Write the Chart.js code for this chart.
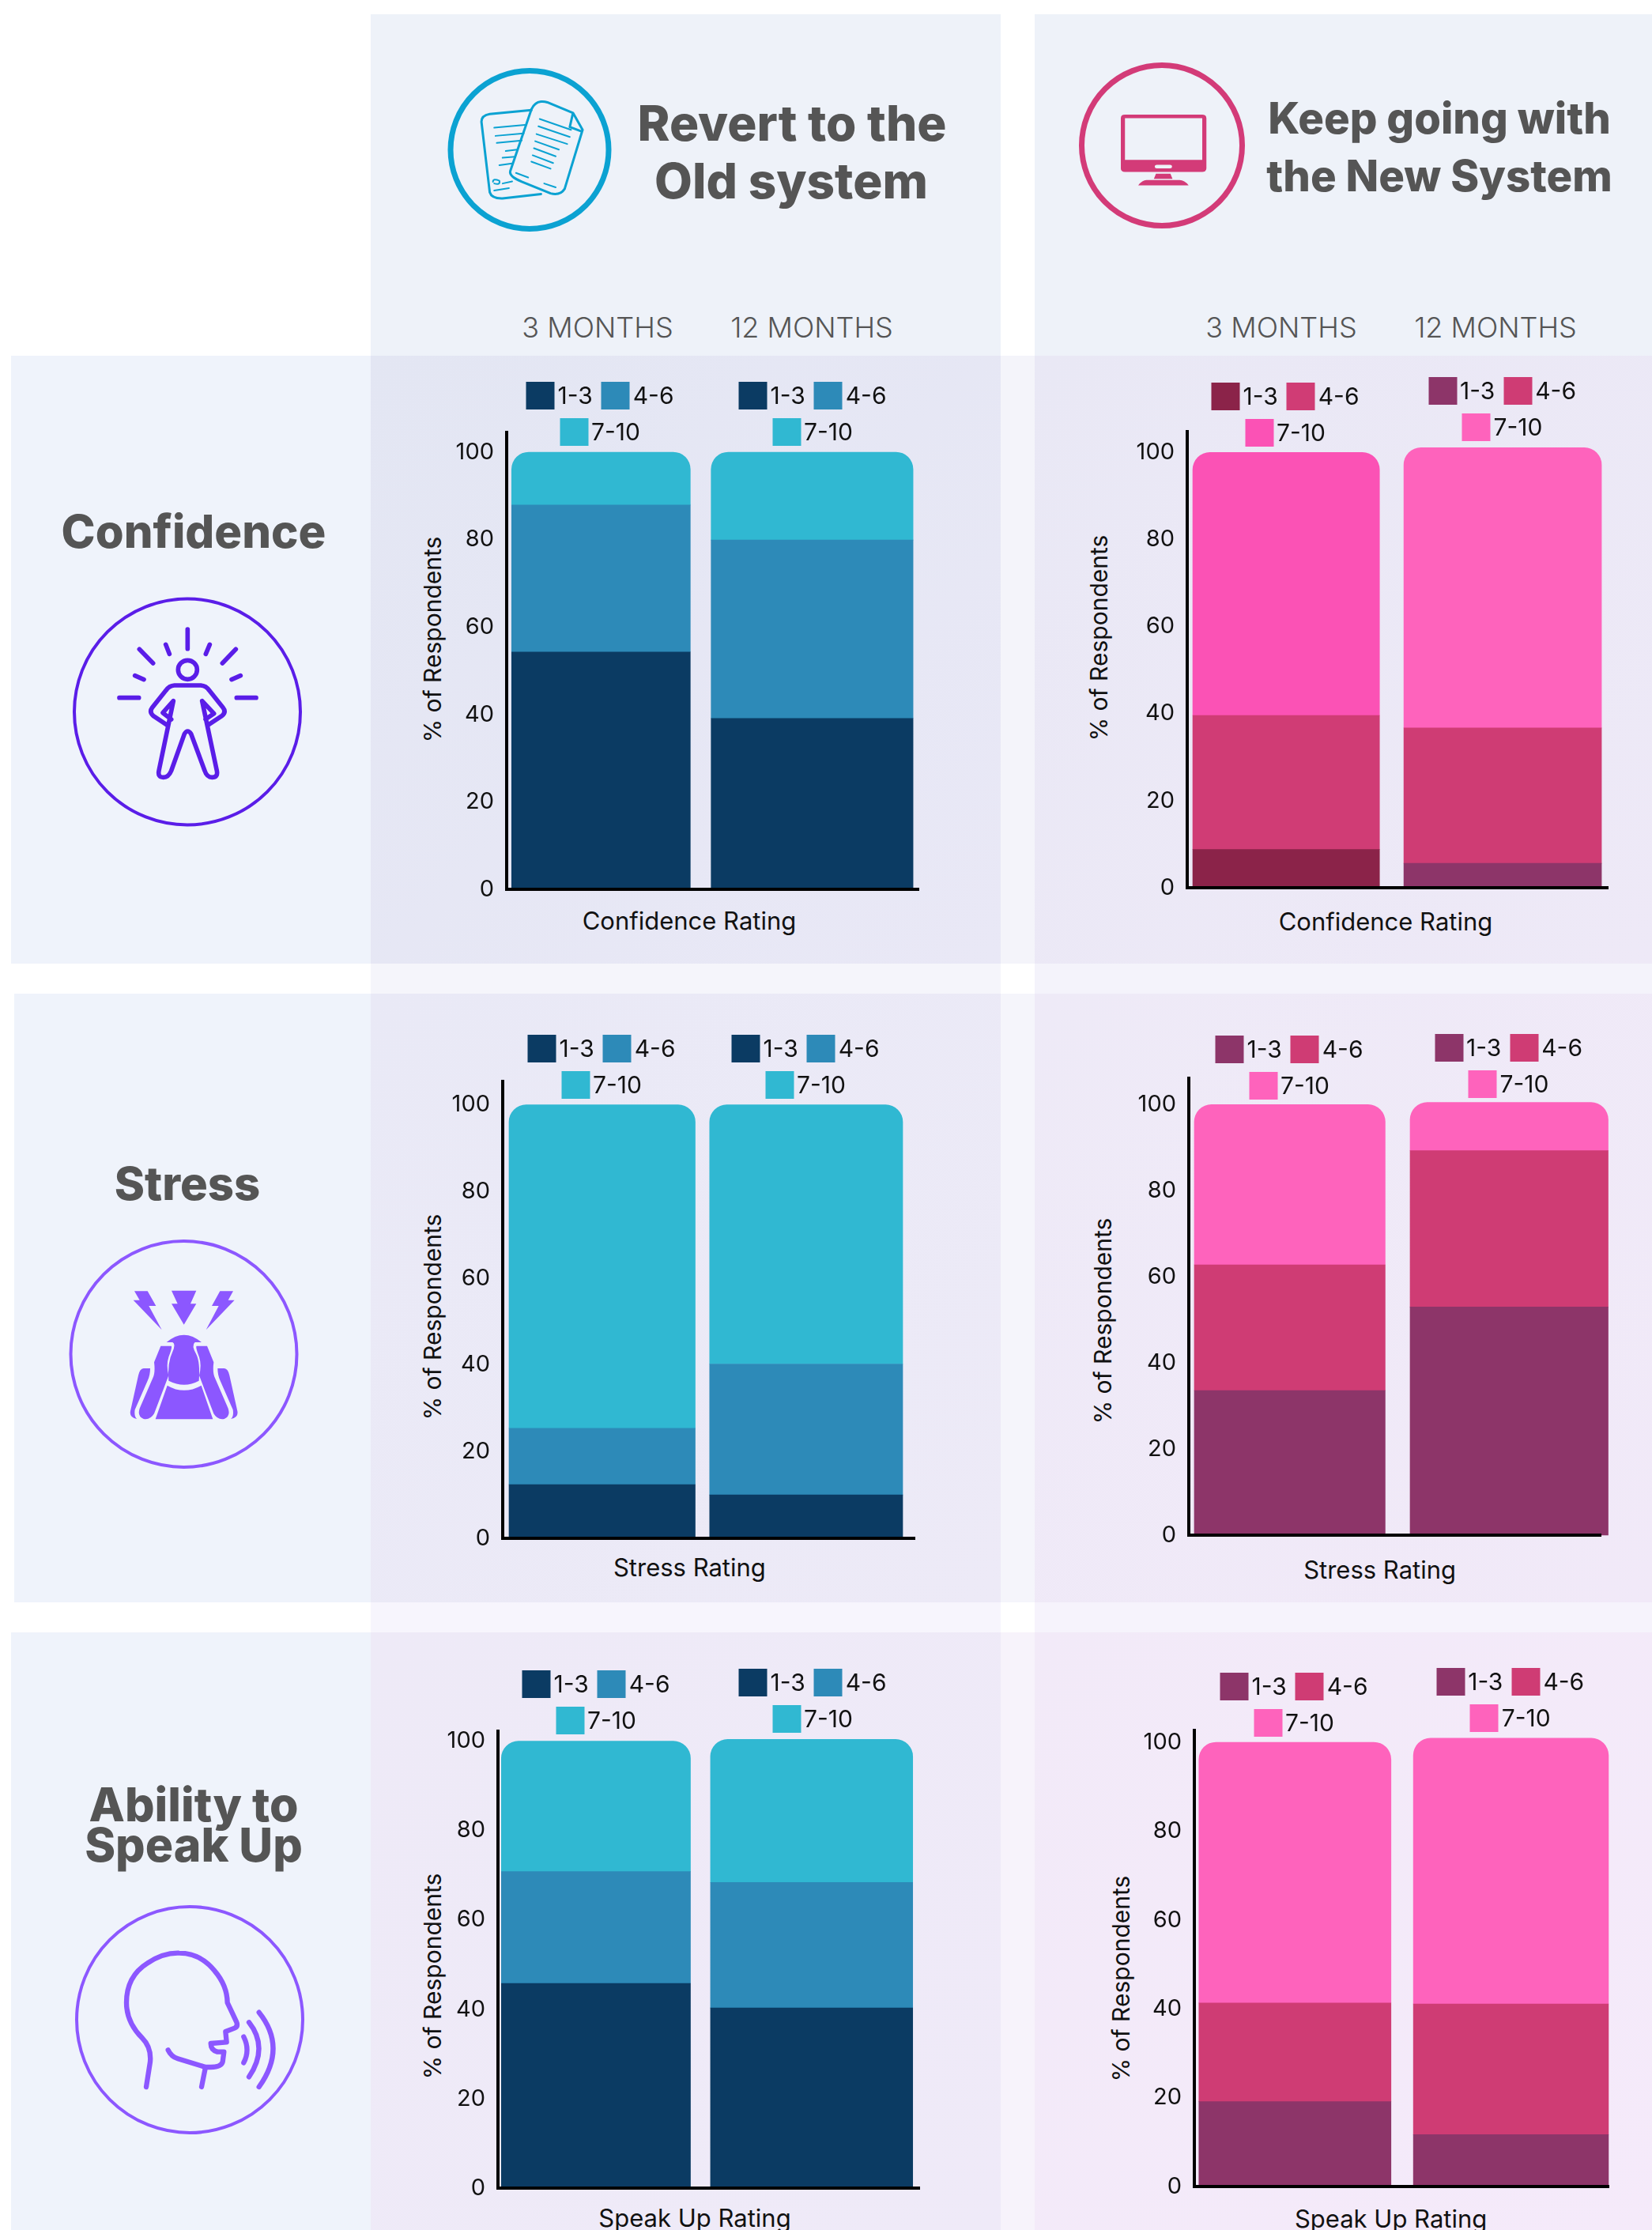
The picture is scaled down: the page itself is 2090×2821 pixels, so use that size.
<!DOCTYPE html>
<html>
<head>
  <title>Revert or Keep Going: Survey Ratings</title>
  <script src="https://cdn.jsdelivr.net/npm/chart.js"></script>
  <style>
    html, body { margin: 0; padding: 0; }
    html { background: #fff; }
    body { position: relative; width: 2090px; height: 2821px; overflow: hidden; font-family: Inter, "Noto Sans", sans-serif; }
    .cell { position: absolute; }
    .label { position: absolute; white-space: nowrap; line-height: 1; transform: translate(-50%, -50%); color: #111; }
    .heading { font-weight: 800; color: #555; }
    .months { font-weight: 300; font-size: 36px; color: #555; }
    canvas { position: absolute; }
    svg { position: absolute; overflow: visible; }
    .legend { position: absolute; width: 205px; display: flex; flex-wrap: wrap; justify-content: center; column-gap: 11px; row-gap: 10px; transform: translateX(-50%); font-size: 30px; color: #111; }
    .legend-item { display: flex; align-items: center; gap: 4px; }
    .legend-box { width: 36px; height: 35px; display: block; }
  </style>
</head>
<body>
  <svg style="left:0;top:0" width="1270" height="700" viewBox="0 0 1568 1568" preserveAspectRatio="none" fill="none" stroke="#0ba2d2" stroke-width="3" stroke-linecap="round" stroke-linejoin="round">
    <path vector-effect="non-scaling-stroke" d="M830 312 L765 323 Q752 327 752 345 L765 545 Q768 563 785 562 L845 550"/>
    <path vector-effect="non-scaling-stroke" d="M845 288 Q835 290 830 310 L797 485 Q795 500 815 515 L860 548 Q875 555 882 535 L910 368 L895 320 L855 290 Q850 287 845 288 Z M895 320 L890 360 L908 372"/>
    <path vector-effect="non-scaling-stroke" stroke-width="2" d="M843 337 L892 368 M841 358 L890 388 M838 380 L886 408 M836 400 L873 424 M834 420 L868 443 M832 440 L864 462 M830 458 L860 478 M806 490 L825 503 M850 520 L868 531 M772 362 L820 354 M774 385 L818 378 M776 405 L815 398 M790 428 L808 424 M785 447 L805 444 M780 468 L800 463 M770 515 Q770 505 780 512 Q782 525 772 520 M785 520 L800 514 M772 540 L795 533"/>
  </svg>
  <svg style="left:1270px;top:0" width="820" height="700" viewBox="0 0 1568 1568" preserveAspectRatio="none">
    <path fill="#d33b78" fill-rule="evenodd" d="M293 325 H480 Q490 325 490 335 V477 Q490 487 480 487 H293 Q283 487 283 477 V335 Q283 325 293 325 Z M293 335 V453 H480 V335 Z M370 467 Q365 467 365 472 Q365 477 370 477 H402 Q407 477 407 472 Q407 467 402 467 Z"/>
    <path fill="#d33b78" d="M368 492 H403 L408 507 H363 Z M325 525 Q335 510 345 510 H425 Q437 510 447 525 Z"/>
  </svg>
  <svg style="left:0;top:0" width="2090" height="2821" viewBox="0 0 2090 2821" fill="none">
    <circle cx="670" cy="189.5" r="100" stroke="#0ba2d2" stroke-width="7"/>
    <circle cx="1470" cy="184" r="101.5" stroke="#d33b78" stroke-width="7"/>
    <circle cx="237" cy="900.5" r="143" stroke="#5a1de8" stroke-width="4"/>
    <circle cx="232.5" cy="1713" r="143" stroke="#8c57ff" stroke-width="4"/>
    <circle cx="240" cy="2555" r="143" stroke="#8c57ff" stroke-width="4"/>
  </svg>
  <svg style="left:60px;top:730px" width="340" height="340" viewBox="0 0 1020 1020" fill="none" stroke="#5a1de8" stroke-width="17" stroke-linecap="round" stroke-linejoin="round">
    <path d="M532 198 V272 M349 274 L401 327 M715 274 L664 327 M449 256 L463 292 M616 256 L601 292 M332 374 L366 389 M733 374 L699 389 M273 458 H347 M718 458 H792"/>
    <circle cx="532" cy="352" r="36"/>
    <path d="M455 562 L402 527 Q385 512 398 495 L450 430 Q462 412 482 411 H582 Q602 412 614 430 L666 495 Q680 512 662 527 L612 560"/>
    <path d="M470 540 L438 515 L478 470 L423 735 Q418 760 440 760 Q460 760 470 735 L520 595 Q532 575 545 595 L597 735 Q605 760 625 760 Q648 760 643 735 L587 470 L632 518 L600 540"/>
  </svg>
  <svg style="left:0;top:1480px" width="500" height="440" viewBox="0 0 1500 1320" fill="#8c57ff">
    <path d="M510 460 H560 L592 516 H565 L614 607 L506 494 H530 Z M651 458 H745 L723 508 H745 L698 587 L651 508 H674 Z M885 460 H835 L804 516 H830 L782 607 L890 494 H866 Z"/>
    <path d="M632 654 Q698 598 765 654 H740 Q725 665 745 700 Q760 730 755 800 Q700 830 640 800 Q635 730 655 690 Q668 660 655 654 Z"/>
    <path d="M635 818 Q698 855 764 818 L808 946 H590 Z"/>
    <g id="stress-arm">
      <path d="M610 668 H650 Q655 672 640 710 Q630 740 640 780 L585 925 Q570 950 545 945 Q520 935 530 905 L580 790 Q590 770 585 730 Z"/>
      <path d="M545 753 H570 Q570 780 560 800 L512 910 Q508 935 520 945 Q490 940 495 915 L525 780 Q530 755 545 753 Z"/>
    </g>
    <use href="#stress-arm" transform="translate(1396 0) scale(-1 1)"/>
  </svg>
  <svg style="left:0;top:2200px" width="500" height="520" viewBox="0 0 1500 1560" fill="none" stroke="#8c57ff" stroke-width="19" stroke-linecap="round" stroke-linejoin="round">
    <path d="M555 1320 L570 1225 Q575 1170 540 1135 Q480 1075 480 1000 Q480 900 560 850 Q620 810 680 812 Q760 812 815 880 Q862 935 863 1000 L897 1072 Q905 1090 890 1097 L856 1110 L860 1150 L800 1155 Q800 1180 825 1187 L850 1187 L845 1225 Q840 1245 800 1245 H780 L675 1213 Q650 1205 638 1180"/>
    <path d="M780 1245 L765 1320 M925 1130 Q950 1180 925 1228 M945 1075 Q1020 1170 945 1282 M983 1037 Q1090 1170 983 1320"/>
  </svg>

  <script>
    const ratingBands = ['1-3', '4-6', '7-10'];
    const months = [3, 12];
    const monthLabels = ['3 MONTHS', '12 MONTHS'];
    const yTickStep = 20;

    // percent of respondents per rating band, low band first
    const confidenceOld3 = [54.3, 33.6, 12.1];
    const confidenceOld12 = [39.1, 40.8, 20.1];
    const confidenceNew3 = [8.8, 30.8, 60.4];
    const confidenceNew12 = [5.6, 31.1, 64.4];
    const stressOld3 = [12.4, 13.0, 74.6];
    const stressOld12 = [10.0, 30.2, 59.8];
    const stressNew3 = [33.6, 29.2, 37.2];
    const stressNew12 = [53.0, 36.3, 11.2];
    const speakOld3 = [45.8, 25.0, 29.2];
    const speakOld12 = [40.3, 28.1, 32.0];
    const speakNew3 = [19.1, 22.2, 58.7];
    const speakNew12 = [11.7, 29.4, 59.8];

    const bluePalette = ['#0b3b63', '#2d8ab8', '#30b8d2'];
    const pinkPalette = ['#8d3569', '#cf3c74', '#fe63bc'];

    // pixel frame of each chart; bars give the left and right edge of each column
    const frames = [
      { name: 'Confidence Rating', series: [confidenceOld3, confidenceOld12], colors: [bluePalette, bluePalette],
        axisX: 640.6, axisTop: 547, y0: 1125, y100: 572, xEnd: 1162, bars: [[647, 873], [899.6, 1155]],
        legends: [[759, 482], [1028, 482]], xTitle: [872, 1164], yTitle: [547, 809] },
      { name: 'Confidence Rating', series: [confidenceNew3, confidenceNew12], colors: [['#8b2349', '#d03c75', '#fb52b5'], pinkPalette],
        axisX: 1501.7, axisTop: 546, y0: 1123, y100: 572.4, xEnd: 2034, bars: [[1508.8, 1745], [1776, 2026]],
        legends: [[1626, 483], [1900.5, 476]], xTitle: [1753, 1165], yTitle: [1390, 807] },
      { name: 'Stress Rating', series: [stressOld3, stressOld12], colors: [bluePalette, bluePalette],
        axisX: 636, axisTop: 1368, y0: 1946, y100: 1397.6, xEnd: 1157, bars: [[644, 879.5], [897.8, 1142]],
        legends: [[761, 1308], [1019, 1308]], xTitle: [872.4, 1982], yTitle: [547, 1666] },
      { name: 'Stress Rating', series: [stressNew3, stressNew12], colors: [pinkPalette, pinkPalette],
        axisX: 1504, axisTop: 1364.4, y0: 1942, y100: 1397.8, xEnd: 2025, bars: [[1511, 1752.4], [1784, 2034.5]],
        legends: [[1631, 1309], [1908.5, 1307]], xTitle: [1745.6, 1985], yTitle: [1395, 1671] },
      { name: 'Speak Up Rating', series: [speakOld3, speakOld12], colors: [bluePalette, bluePalette],
        axisX: 630.4, axisTop: 2189.6, y0: 2767.8, y100: 2202.2, xEnd: 1163.8, bars: [[634.8, 874], [899.6, 1155.4]],
        legends: [[754, 2112], [1028, 2110]], xTitle: [879, 2805], yTitle: [547, 2500] },
      { name: 'Speak Up Rating', series: [speakNew3, speakNew12], colors: [pinkPalette, pinkPalette],
        axisX: 1510.8, axisTop: 2189, y0: 2766, y100: 2204, xEnd: 2034.5, bars: [[1516.5, 1759.5], [1787.7, 2034.5]],
        legends: [[1637, 2115], [1910.7, 2109]], xTitle: [1759.6, 2806], yTitle: [1417.5, 2502.5] }
    ];

    // background blocks: x, y, w, h, css background
    const blocks = [
      [469, 18, 797, 432, '#eef2f9'],
      [1309, 18, 781, 432, '#eef2f9'],
      [14, 450, 455, 769, '#eff3fb'],
      [18, 1257, 451, 770, '#eff3fb'],
      [14, 2065, 455, 756, '#eff3fb'],
      [1266, 450, 43, 769, '#f4f4fa'],
      [1266, 1257, 43, 770, '#f5f5fb'],
      [1266, 2065, 43, 756, '#f7f3fb'],
      [469, 1219, 797, 38, '#f5f5fb'],
      [1309, 1219, 781, 38, '#f4f3fb'],
      [469, 2027, 797, 38, '#f7f5fd'],
      [1309, 2027, 781, 38, '#f6f3fc'],
      [469, 450, 797, 769, 'linear-gradient(135deg, #e3e6f3, #e9e8f6)'],
      [1309, 450, 781, 769, 'linear-gradient(135deg, #e9e8f5, #eee9f7)'],
      [469, 1257, 797, 770, 'linear-gradient(135deg, #e9e9f6, #edeaf7)'],
      [1309, 1257, 781, 770, 'linear-gradient(135deg, #eeeaf7, #f1e9f8)'],
      [469, 2065, 797, 756, 'linear-gradient(135deg, #eeeaf7, #efeaf8)'],
      [1309, 2065, 781, 756, 'linear-gradient(135deg, #f2eaf8, #f5eafa)']
    ];
    blocks.forEach(([x, y, w, h, bg]) => {
      const el = document.createElement('div');
      el.className = 'cell';
      el.style.cssText = `left:${x}px;top:${y}px;width:${w}px;height:${h}px;background:${bg};z-index:-1`;
      document.body.appendChild(el);
    });

    function addLabel(text, x, y, className, style) {
      const el = document.createElement('div');
      el.className = 'label ' + className;
      el.textContent = text;
      el.style.left = x + 'px';
      el.style.top = y + 'px';
      el.style.cssText += style || '';
      document.body.appendChild(el);
      return el;
    }

    addLabel('Revert to the', 1002, 156, 'heading', 'font-size:62px');
    addLabel('Old system', 1001, 229, 'heading', 'font-size:62px');
    addLabel('Keep going with', 1821, 149, 'heading', 'font-size:54.5px');
    addLabel('the New System', 1821, 222, 'heading', 'font-size:54.5px');
    addLabel('Confidence', 245, 672, 'heading', 'font-size:58px');
    addLabel('Stress', 237, 1497, 'heading', 'font-size:58px');
    addLabel('Ability to', 245, 2282, 'heading', 'font-size:59px');
    addLabel('Speak Up', 245, 2333, 'heading', 'font-size:59px');
    addLabel(monthLabels[0], 756, 414, 'months');
    addLabel(monthLabels[1], 1027, 414, 'months');
    addLabel(monthLabels[0], 1621, 414, 'months');
    addLabel(monthLabels[1], 1892, 414, 'months');

    // legends live outside the canvas so they can sit right above each column
    const htmlLegend = {
      id: 'htmlLegend',
      afterUpdate(chart, args, opts) {
        const items = chart.options.plugins.legend.labels.generateLabels(chart);
        opts.spots.forEach(([x, y], m) => {
          const box = document.createElement('div');
          box.className = 'legend';
          box.style.left = x + 'px';
          box.style.top = y + 'px';
          items.filter(it => Math.floor(it.datasetIndex / ratingBands.length) === m).forEach(it => {
            const item = document.createElement('div');
            item.className = 'legend-item';
            const swatch = document.createElement('span');
            swatch.className = 'legend-box';
            swatch.style.background = it.fillStyle;
            const text = document.createElement('span');
            text.textContent = it.text;
            item.append(swatch, text);
            box.appendChild(item);
          });
          document.body.appendChild(box);
        });
      }
    };

    const leftGutter = 85;
    const padTop = 4;
    const padBottom = 24;
    const padRight = 12;

    frames.forEach(f => {
      addLabel(f.name, f.xTitle[0], f.xTitle[1], '', 'font-size:31px');
      addLabel('% of Respondents', f.yTitle[0], f.yTitle[1], '', 'font-size:30px;transform:translate(-50%,-50%) rotate(-90deg)');

      const canvas = document.createElement('canvas');
      canvas.width = Math.round(leftGutter + (f.xEnd - f.axisX) + padRight);
      canvas.height = Math.round((f.y0 - f.axisTop) + padTop + padBottom);
      canvas.style.left = (f.axisX - leftGutter) + 'px';
      canvas.style.top = (f.axisTop - padTop) + 'px';
      document.body.appendChild(canvas);

      // x is a month scale stretched so both columns land where the frame wants them
      const centers = f.bars.map(b => (b[0] + b[1]) / 2);
      const pxPerMonth = (centers[1] - centers[0]) / (months[1] - months[0]);
      const xMin = months[0] - (centers[0] - f.axisX) / pxPerMonth;
      const xMax = months[1] + (f.xEnd - centers[1]) / pxPerMonth;
      const yMax = (f.y0 - f.axisTop) / (f.y0 - f.y100) * 100;

      const datasets = [];
      months.forEach((month, m) => {
        ratingBands.forEach((band, b) => {
          const isTop = b === ratingBands.length - 1;
          datasets.push({
            label: band,
            data: [{ x: month, y: f.series[m][b] }],
            backgroundColor: f.colors[m][b],
            barThickness: f.bars[m][1] - f.bars[m][0],
            grouped: false,
            clip: false,
            borderSkipped: false,
            borderRadius: isTop ? { topLeft: 22, topRight: 22, bottomLeft: 0, bottomRight: 0 } : 0
          });
        });
      });

      new Chart(canvas, {
        type: 'bar',
        data: { datasets },
        plugins: [htmlLegend],
        options: {
          responsive: false,
          animation: false,
          layout: { autoPadding: false, padding: { top: padTop, bottom: padBottom, right: padRight } },
          plugins: {
            legend: { display: false },
            tooltip: { enabled: false },
            htmlLegend: { spots: f.legends }
          },
          scales: {
            x: {
              type: 'linear',
              min: xMin,
              max: xMax,
              offset: false,
              stacked: true,
              grid: { display: false, drawTicks: false },
              ticks: { display: false },
              border: { display: true, color: '#000', width: 4, z: 1 },
              afterFit(s) { s.height = 0; s.paddingLeft = 0; s.paddingRight = 0; }
            },
            y: {
              min: 0,
              max: yMax,
              stacked: true,
              grid: { display: false, drawTicks: false },
              ticks: { stepSize: yTickStep, includeBounds: false, padding: 16, color: '#111', font: { family: 'Inter', size: 29 } },
              border: { display: true, color: '#000', width: 4, z: 1 },
              // the axis keeps its full height, tick labels may overhang the ends
              afterFit(s) { s.width = leftGutter; s.paddingTop = 0; s.paddingBottom = 0; }
            }
          }
        }
      });
    });
  </script>
</body>
</html>
